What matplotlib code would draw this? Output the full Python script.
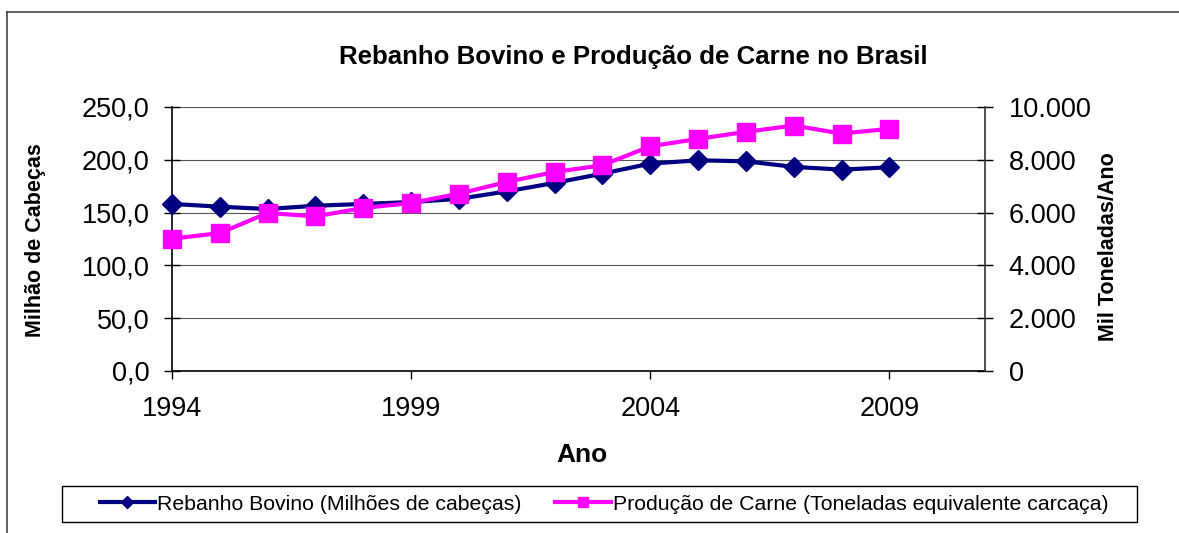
import matplotlib
matplotlib.use("Agg")
import matplotlib.pyplot as plt
from matplotlib.lines import Line2D
from matplotlib.patches import Rectangle
from matplotlib.ticker import FuncFormatter

plt.rcParams['font.family'] = ['Liberation Sans', 'DejaVu Sans']

anos = [1994, 1995, 1996, 1997, 1998, 1999, 2000, 2001,
        2002, 2003, 2004, 2005, 2006, 2007, 2008, 2009]
rebanho = [158.2, 155.6, 153.4, 156.5, 158.2, 160.0, 163.0, 170.1,
           178.1, 186.9, 196.4, 199.5, 198.6, 193.3, 190.7, 192.9]
carne = [5010, 5225, 5985, 5857, 6175, 6364, 6717, 7160,
         7540, 7792, 8512, 8792, 9058, 9298, 8994, 9173]

nome_rebanho = "Rebanho Bovino (Milhões de cabeças)"
nome_carne = "Produção de Carne (Toneladas equivalente carcaça)"
azul = "#000080"
rosa = "#FF00FF"

W, H = 1179, 533
fig = plt.figure(figsize=(W / 100, H / 100), dpi=100)
ax = fig.add_axes([172 / W, 1 - 371 / H, (985 - 172) / W, (371 - 107) / H])
ax2 = ax.twinx()

ax2.plot(anos, carne, color=rosa, lw=3, marker='s', ms=13.5, mec=rosa,
         label=nome_carne, clip_on=False, zorder=3)
ax.plot(anos, rebanho, color=azul, lw=3, marker='D', ms=10, mec=azul,
        label=nome_rebanho, clip_on=False, zorder=3)
# pink series sits above the blue one, as in the reference
ax.set_zorder(1)
ax2.set_zorder(2)
ax2.patch.set_visible(False)

ax.set_xlim(1994, 2011)
ax.set_ylim(0, 250)
ax2.set_ylim(0, 10000)
ax.set_xticks([1994, 1999, 2004, 2009])
ax.set_yticks(range(0, 251, 50))
ax2.set_yticks(range(0, 10001, 2000))
ax.yaxis.set_major_formatter(FuncFormatter(lambda v, p: f"{v:.1f}".replace('.', ',')))
ax2.yaxis.set_major_formatter(FuncFormatter(lambda v, p: f"{int(v):,}".replace(',', '.')))

ax.grid(axis='y', color='#555555', lw=0.8)
ax.set_axisbelow(True)
for a in (ax, ax2):
    a.spines['top'].set_visible(False)
ax.spines['right'].set_visible(False)
ax2.spines['left'].set_visible(False)
ax2.spines['bottom'].set_visible(False)
ax.spines['left'].set_linewidth(1.2)
ax.spines['bottom'].set_linewidth(1.2)
ax2.spines['right'].set_linewidth(1.2)
ax2.spines['right'].set_color('#333333')

ax.tick_params(axis='y', direction='inout', length=12, width=1, labelsize=19.5, pad=10)
ax.tick_params(axis='x', direction='out', length=6, width=1, labelsize=19.5, pad=12)
ax2.tick_params(axis='y', direction='inout', length=12, width=1, labelsize=19.5, pad=11)

fig.text(633 / W, 1 - 57 / H, "Rebanho Bovino e Produção de Carne no Brasil",
         ha='center', va='center', fontsize=18.6, fontweight='bold')
fig.text(582 / W, 1 - 455 / H, "Ano", ha='center', va='center',
         fontsize=19, fontweight='bold')
fig.text(36 / W, 1 - 240 / H, "Milhão de Cabeças", ha='center', va='center',
         rotation=90, fontsize=15.5, fontweight='bold')
fig.text(1108 / W, 1 - 247 / H, "Mil Toneladas/Ano", ha='center', va='center',
         rotation=90, fontsize=15.5, fontweight='bold')

handles = [Line2D([], [], color=azul, lw=3, marker='D', ms=6, mec=azul),
           Line2D([], [], color=rosa, lw=3, marker='s', ms=7, mec=rosa)]
fig.legend(handles, [nome_rebanho, nome_carne], loc='center',
           bbox_to_anchor=(604 / W, 1 - 504 / H), ncol=2, frameon=False,
           fontsize=15.3, handlelength=2.6, handletextpad=0.1, columnspacing=1.6)
fig.patches.append(Rectangle((62 / W, 1 - 522 / H), (1137 - 62) / W, 36 / H,
                             transform=fig.transFigure, fill=False,
                             edgecolor='black', lw=1))

# outer chart border
fig.add_artist(Line2D([7 / W, 7 / W], [0, 1 - 12 / H], transform=fig.transFigure,
                      color='#444444', lw=1.2))
fig.add_artist(Line2D([7 / W, 1], [1 - 12 / H, 1 - 12 / H], transform=fig.transFigure,
                      color='#444444', lw=1.2))

fig.savefig("out.png", dpi=100)
